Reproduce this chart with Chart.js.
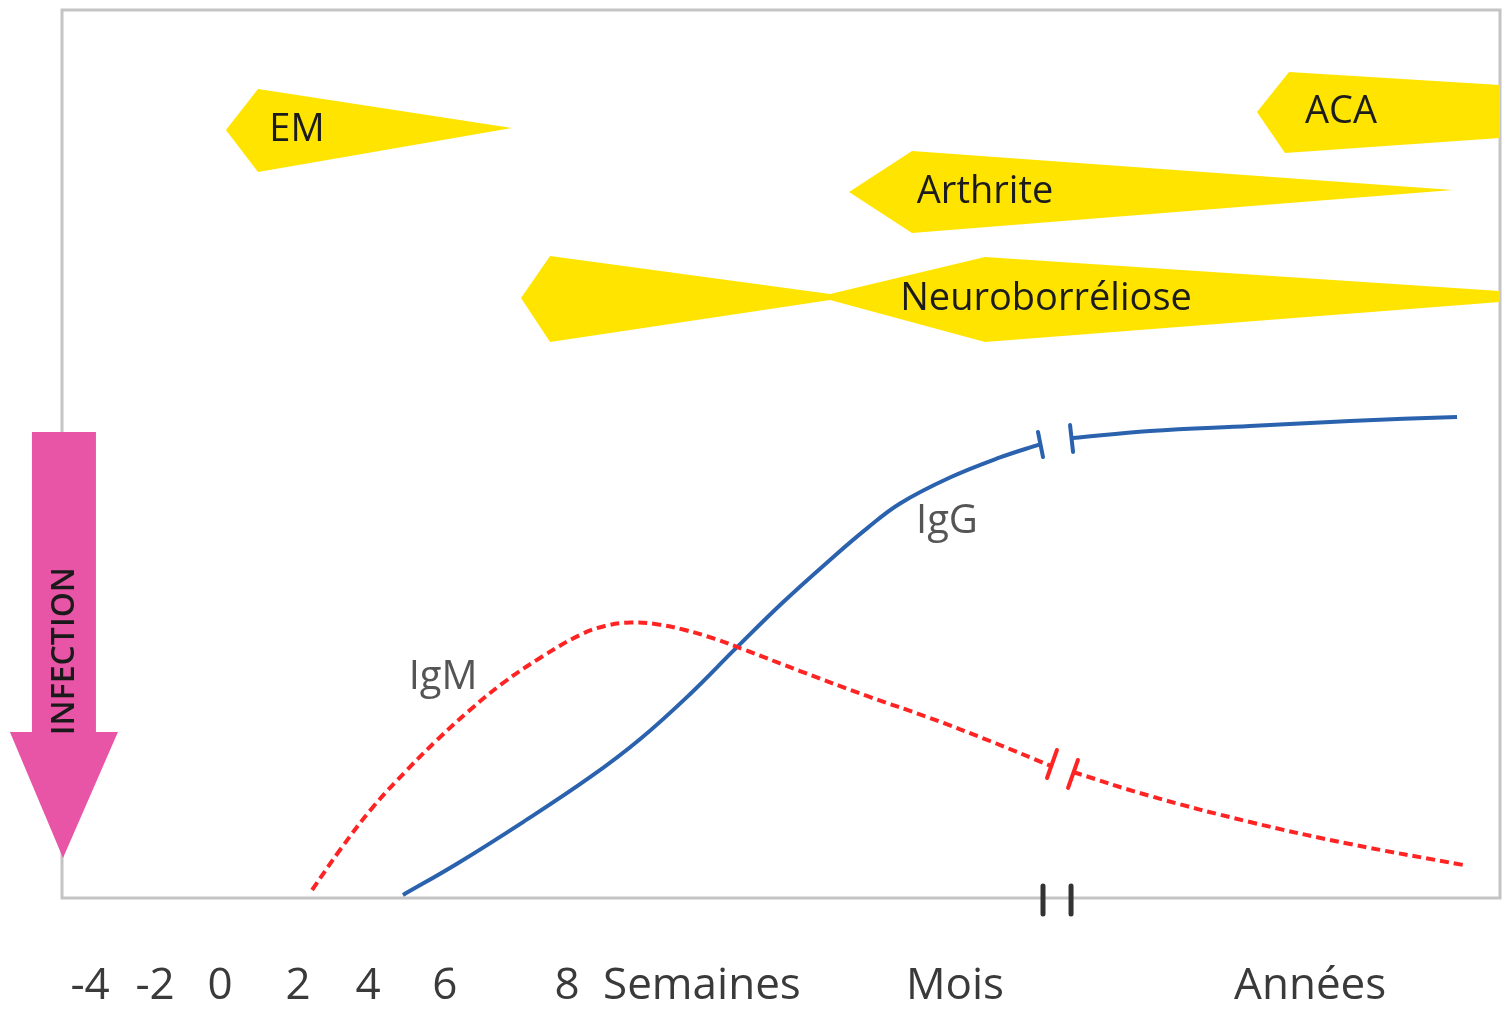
<!DOCTYPE html>
<html lang="fr">
<head>
<meta charset="UTF-8">
<title>Borréliose de Lyme - évolution</title>
<script src="https://cdn.jsdelivr.net/npm/chart.js@4.4.1/dist/chart.umd.min.js"></script>
<style>
  body { margin: 0; background: #fff; }
</style>
</head>
<body>
<canvas id="lymeChart" width="1509" height="1017"></canvas>
<script>
// axe x schématique : 0 = bord gauche, 100 = bord droit ; y : taux (0..100)
const tickPos = [1.95, 6.47, 10.99, 16.41, 21.28, 26.63, 35.12, 44.5, 62.1, 86.8];
const tickLabels = ['-4', '-2', '0', '2', '4', '6', '8', 'Semaines', 'Mois', 'Années'];

// IgM (pointillés rouges), avant et après la coupure
const igmAvant = [
  {x: 17.39, y: 0.90}, {x: 19.33, y: 5.41}, {x: 21.63, y: 10.25}, {x: 23.99, y: 14.41},
  {x: 26.08, y: 17.79}, {x: 28.37, y: 21.17}, {x: 30.67, y: 24.21}, {x: 33.24, y: 27.03},
  {x: 36.02, y: 29.62}, {x: 37.76, y: 30.63}, {x: 39.50, y: 31.02}, {x: 41.24, y: 30.86},
  {x: 43.32, y: 30.18}, {x: 45.41, y: 29.17}, {x: 47.50, y: 27.93}, {x: 51.32, y: 25.56},
  {x: 55.98, y: 22.75}, {x: 60.36, y: 20.27}, {x: 64.53, y: 17.68}, {x: 68.78, y: 14.86}
];
const igmApres = [
  {x: 70.31, y: 14.19}, {x: 75.66, y: 11.49}, {x: 82.61, y: 8.56}, {x: 89.57, y: 6.08}, {x: 97.43, y: 3.72}
];

// IgG (trait bleu)
const iggAvant = [
  {x: 23.71, y: 0.34}, {x: 27.47, y: 3.86}, {x: 32.06, y: 8.55}, {x: 36.72, y: 13.60},
  {x: 40.19, y: 17.88}, {x: 43.67, y: 22.95}, {x: 46.80, y: 28.02}, {x: 50.14, y: 33.31},
  {x: 53.62, y: 38.38}, {x: 55.98, y: 41.63}, {x: 58.28, y: 44.43}, {x: 61.75, y: 47.35},
  {x: 65.23, y: 49.61}, {x: 68.01, y: 51.09}
];
const iggApres = [
  {x: 70.31, y: 51.80}, {x: 75.66, y: 52.59}, {x: 82.61, y: 53.15}, {x: 89.57, y: 53.72}, {x: 97.01, y: 54.17}
];

// traits de coupure
const coupureIgg = [
  [{x: 67.87, y: 52.48}, {x: 68.22, y: 49.66}],
  [{x: 70.10, y: 53.27}, {x: 70.31, y: 50.23}]
];
const coupureIgm = [
  [{x: 69.19, y: 16.67}, {x: 68.50, y: 13.51}],
  [{x: 70.65, y: 15.54}, {x: 69.96, y: 12.39}]
];
const coupureAxe = [
  [{x: 68.22, y: 1.35}, {x: 68.22, y: -1.80}],
  [{x: 70.17, y: 1.35}, {x: 70.17, y: -1.80}]
];

// manifestations cliniques (zones jaunes)
const zoneEM = [
  {x: 11.40, y: 86.49}, {x: 13.63, y: 91.10}, {x: 31.29, y: 86.71}, {x: 13.63, y: 81.76}
];
const zoneACA = [
  {x: 83.10, y: 88.51}, {x: 85.33, y: 93.02}, {x: 100, y: 91.55}, {x: 100, y: 85.59}, {x: 85.05, y: 83.90}
];
const zoneArthrite = [
  {x: 54.73, y: 79.50}, {x: 59.11, y: 84.12}, {x: 96.73, y: 79.73}, {x: 59.11, y: 74.89}
];
const zoneNeuro = [
  {x: 31.92, y: 67.57}, {x: 33.94, y: 72.30}, {x: 53.41, y: 68.02}, {x: 64.19, y: 72.18},
  {x: 100, y: 68.36}, {x: 100, y: 67.12}, {x: 64.19, y: 62.61}, {x: 53.41, y: 67.34},
  {x: 33.94, y: 62.61}
];

const zoneTextes = [
  {text: 'EM', x: 16.34, y: 86.49},
  {text: 'ACA', x: 88.94, y: 88.51},
  {text: 'Arthrite', x: 64.19, y: 79.50},
  {text: 'Neuroborréliose', x: 68.43, y: 67.45}
];
const courbeTextes = [
  {text: 'IgM', x: 26.5, y: 24.77},
  {text: 'IgG', x: 61.54, y: 42.34}
];

// flèche INFECTION
const flecheInfection = [
  {x: -2.09, y: 52.48}, {x: 2.36, y: 52.48}, {x: 2.36, y: 18.69}, {x: 3.89, y: 18.69},
  {x: 0.07, y: 4.50}, {x: -3.62, y: 18.69}, {x: -2.09, y: 18.69}
];
const flecheTexte = {text: 'INFECTION', x: 0.21, y: 27.8};

const JAUNE = '#ffe400';
const BLEU = '#2a62ae';
const ROUGE = '#ff2424';

function zone(data) {
  return { data: data, backgroundColor: JAUNE, borderColor: JAUNE, borderWidth: 0, fill: 'shape', tension: 0 };
}
function courbe(data, color, dash) {
  return { data: data, borderColor: color, borderWidth: 4, borderDash: dash, fill: false, tension: 0.4 };
}
function trait(data, color, width) {
  return { data: data, borderColor: color, borderWidth: width, fill: false, tension: 0, clip: false, borderCapStyle: 'round' };
}

const dessins = {
  id: 'dessins',
  beforeDatasetsDraw(chart) {
    const {ctx, chartArea: a} = chart;
    ctx.save();
    ctx.strokeStyle = '#c4c4c4';
    ctx.lineWidth = 3;
    ctx.strokeRect(a.left, a.top, a.right - a.left, a.bottom - a.top);
    ctx.restore();
  },
  afterDatasetsDraw(chart) {
    const {ctx, scales: {x, y}} = chart;
    ctx.save();
    ctx.fillStyle = '#e855a6';
    ctx.beginPath();
    flecheInfection.forEach(function (p, i) {
      const px = x.getPixelForValue(p.x), py = y.getPixelForValue(p.y);
      if (i === 0) ctx.moveTo(px, py); else ctx.lineTo(px, py);
    });
    ctx.closePath();
    ctx.fill();

    ctx.textAlign = 'center';
    ctx.textBaseline = 'middle';
    ctx.fillStyle = '#1c1c1c';
    ctx.font = '38px "Open Sans"';
    zoneTextes.forEach(function (t) {
      ctx.fillText(t.text, x.getPixelForValue(t.x), y.getPixelForValue(t.y));
    });
    ctx.fillStyle = '#555';
    ctx.font = '40px "Open Sans"';
    courbeTextes.forEach(function (t) {
      ctx.fillText(t.text, x.getPixelForValue(t.x), y.getPixelForValue(t.y));
    });

    ctx.translate(x.getPixelForValue(flecheTexte.x), y.getPixelForValue(flecheTexte.y));
    ctx.rotate(-Math.PI / 2);
    ctx.fillStyle = '#1a1a1a';
    ctx.font = '600 32px "Open Sans"';
    ctx.fillText(flecheTexte.text, 0, 0);
    ctx.restore();
  }
};

new Chart(document.getElementById('lymeChart').getContext('2d'), {
  type: 'line',
  data: {
    datasets: [
      courbe(igmAvant, ROUGE, [9, 5]),
      courbe(igmApres, ROUGE, [9, 5]),
      courbe(iggAvant, BLEU, []),
      courbe(iggApres, BLEU, []),
      trait(coupureIgg[0], BLEU, 4),
      trait(coupureIgg[1], BLEU, 4),
      trait(coupureIgm[0], ROUGE, 4),
      trait(coupureIgm[1], ROUGE, 4),
      trait(coupureAxe[0], '#333', 5),
      trait(coupureAxe[1], '#333', 5),
      zone(zoneEM),
      zone(zoneACA),
      zone(zoneArthrite),
      zone(zoneNeuro)
    ]
  },
  options: {
    responsive: false,
    animation: false,
    devicePixelRatio: 1,
    layout: { padding: { left: 62, right: 9, top: 10, bottom: 0 } },
    elements: { point: { radius: 0 } },
    plugins: { legend: { display: false }, tooltip: { enabled: false } },
    scales: {
      x: {
        type: 'linear', min: 0, max: 100,
        grid: { display: false, drawTicks: false },
        border: { display: false },
        afterBuildTicks: function (s) { s.ticks = tickPos.map(function (v) { return {value: v}; }); },
        afterFit: function (s) { s.height = 119; },
        ticks: {
          autoSkip: false, maxRotation: 0, padding: 62, color: '#3a3a3a',
          font: { family: 'Open Sans', size: 44 },
          callback: function (v, i) { return tickLabels[i]; }
        }
      },
      y: { display: false, min: 0, max: 100 }
    }
  },
  plugins: [dessins]
});
</script>
</body>
</html>
